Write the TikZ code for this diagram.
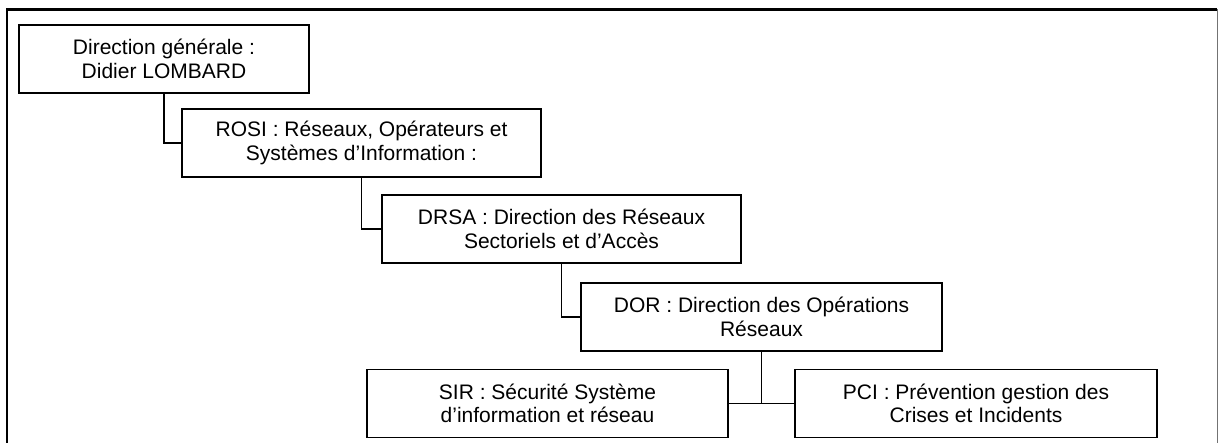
\documentclass[tikz,border=0pt]{standalone}
\usepackage{fontspec}
\setmainfont{Liberation Sans}
\begin{document}
\begin{tikzpicture}[x=1pt,y=-1pt,
  orgbox/.style={draw, line width=1.5pt, minimum width=#1, minimum height=68pt,
    inner sep=0pt, align=center, font=\fontsize{21}{23.5}\selectfont},
  link/.style={line width=1.5pt}]
  \useasboundingbox (0,0) rectangle (1218,443);
  % outer frame (open at the bottom)
  \begin{scope}
    \clip (0,0) rectangle (1218,443);
    \draw[line width=2.2pt] (7,450) -- (7,9.5) -- (1217,9.5);
    \draw[line width=0.8pt, black!55] (1217,9.5) -- (1217,450);
  \end{scope}
  % boxes
  \node[orgbox=290pt] (dg)   at (164,59)    {Direction générale :\\Didier LOMBARD};
  \node[orgbox=359pt] (rosi) at (361.5,143) {ROSI : Réseaux, Opérateurs et\\Systèmes d’Information :};
  \node[orgbox=359pt] (drsa) at (561.5,229) {DRSA : Direction des Réseaux\\Sectoriels et d’Accès};
  \node[orgbox=361pt] (dor)  at (761.5,317) {DOR : Direction des Opérations\\Réseaux};
  \node[orgbox=361pt] (sir)  at (547.5,403.5) {SIR : Sécurité Système\\d’information et réseau};
  \node[orgbox=362pt] (pci)  at (976,403.5) {PCI : Prévention gestion des\\Crises et Incidents};
  % connectors
  \draw[link] (dg.south) |- (rosi.west);
  \draw[link] (rosi.south) |- (drsa.west);
  \draw[link] (drsa.south) |- (dor.west);
  \coordinate (j) at (dor.south |- sir.east);
  \draw[link] (dor.south) -- (j);
  \draw[link] (sir.east) -- (j) -- (pci.west);
\end{tikzpicture}
\end{document}
